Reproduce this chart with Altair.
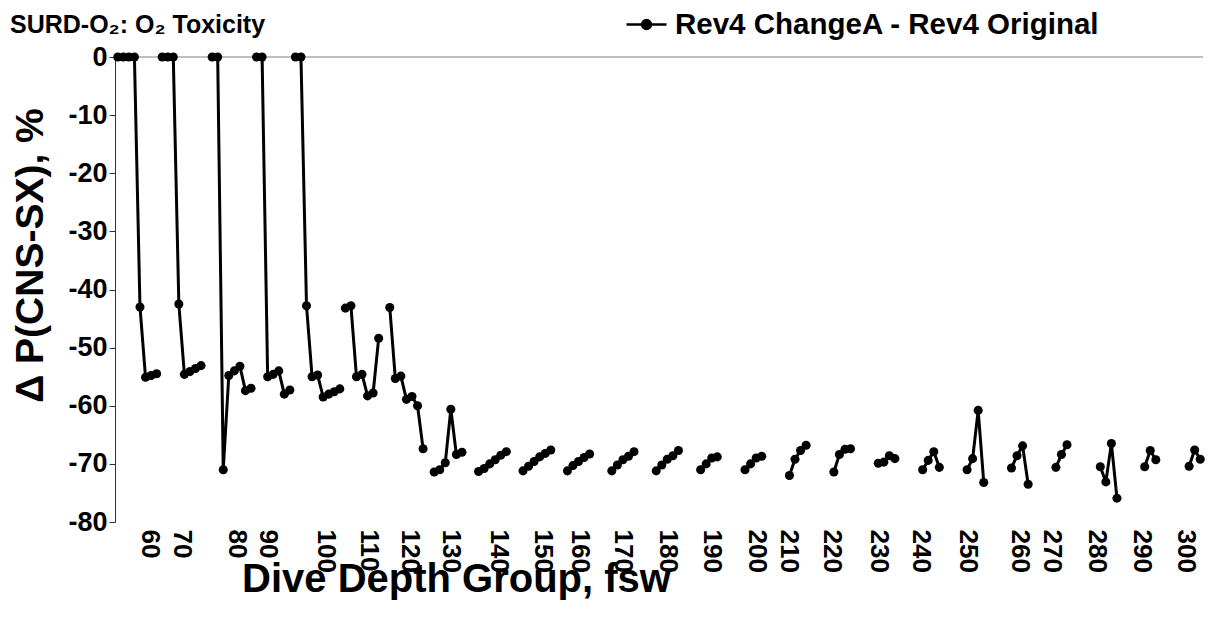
import altair as alt
import pandas as pd

FONT = "Liberation Sans"

# depth groups (x tick labels), first category index of each group, and values
groups = ["60", "70", "80", "90", "100", "110", "120", "130", "140", "150",
          "160", "170", "180", "190", "200", "210", "220", "230", "240", "250",
          "260", "270", "280", "290", "300"]
starts = [0, 8, 17, 25, 32, 41, 49, 57, 65, 73, 81, 89, 97, 105, 113, 121,
          129, 137, 145, 153, 161, 169, 177, 185, 193]
values = [
    [0, 0, 0, 0, -43.0, -55.1, -54.8, -54.5],
    [0, 0, 0, -42.5, -54.6, -54.1, -53.6, -53.1],
    [0, 0, -71.0, -54.8, -54.0, -53.2, -57.4, -57.0],
    [0, 0, -55.0, -54.6, -54.0, -58.0, -57.3],
    [0, 0, -42.8, -55.0, -54.7, -58.5, -58.0, -57.6, -57.1],
    [-43.2, -42.8, -55.0, -54.6, -58.3, -57.8, -48.4],
    [-43.1, -55.3, -54.9, -58.9, -58.4, -60.0, -67.4],
    [-71.4, -71.0, -69.8, -60.6, -68.4, -68.0],
    [-71.3, -70.8, -70.0, -69.3, -68.5, -67.9],
    [-71.2, -70.4, -69.6, -68.8, -68.2, -67.6],
    [-71.2, -70.3, -69.6, -68.9, -68.3],
    [-71.2, -70.2, -69.3, -68.7, -67.9],
    [-71.2, -70.2, -69.2, -68.6, -67.7],
    [-71.0, -70.0, -69.0, -68.8],
    [-71.0, -70.0, -69.0, -68.7],
    [-72.0, -69.2, -67.7, -66.8],
    [-71.4, -68.4, -67.5, -67.4],
    [-69.9, -69.7, -68.6, -69.1],
    [-71.0, -69.4, -67.9, -70.6],
    [-71.0, -69.1, -60.8, -73.2],
    [-70.7, -68.6, -66.9, -73.5],
    [-70.6, -68.4, -66.7],
    [-70.5, -73.1, -66.5, -75.9],
    [-70.5, -67.7, -69.3],
    [-70.4, -67.6, -69.2],
]
# category index at which each depth label sits
label_pos = [5.8, 11.5, 21.3, 27, 37.4, 45.2, 52.5, 59.9, 68.5, 76.5, 83.1, 91,
             99.1, 107, 115, 120.9, 128.6, 137.1, 144.6, 153.1, 162.4, 168.2,
             176.4, 184.5, 192.3]
n_categories = 196
series_name = "Rev4 ChangeA - Rev4 Original"

rows = []
for g, s, vals in zip(groups, starts, values):
    for k, v in enumerate(vals):
        rows.append({"idx": s + k, "delta": v, "group": g, "series": series_name})
df = pd.DataFrame(rows)

xscale = alt.Scale(domain=[-0.5, n_categories - 0.5], nice=False, zero=False)
yscale = alt.Scale(domain=[-80, 0], nice=False, zero=False)

label_expr = ("[" + ",".join(f"'{g}'" for g in groups) + "][indexof(["
              + ",".join(str(p) for p in label_pos) + "], datum.value)]")

x_enc = alt.X(
    "idx:Q", scale=xscale,
    axis=alt.Axis(
        values=label_pos, labelExpr=label_expr, labelAngle=90,
        labelAlign="left", labelBaseline="middle", labelFontSize=26,
        labelFontWeight="bold", labelFont=FONT, labelColor="black",
        labelPadding=7, labelOverlap=False, labelFlush=False,
        domain=False, ticks=False, grid=False,
        title="Dive Depth Group, fsw", titleFont=FONT, titleFontSize=40,
        titleFontWeight="bold", titleColor="black", titleX=341, titleY=37,
    ),
)
y_enc = alt.Y(
    "delta:Q", scale=yscale,
    axis=alt.Axis(
        values=list(range(-80, 1, 10)), labelExpr="datum.value + ''",
        labelFontSize=27, labelFontWeight="bold", labelFont=FONT,
        labelColor="black", labelPadding=2, tickSize=6, tickColor="#333333",
        domainColor="#333333", grid=False,
        title="Δ P(CNS-SX), %", titleFont=FONT, titleFontSize=39,
        titleFontWeight="bold", titleColor="black", titleX=-65, titleY=198,
    ),
)
color_enc = alt.Color(
    "series:N", scale=alt.Scale(range=["black"]),
    legend=alt.Legend(
        title=None, orient="none", legendX=510, legendY=-54,
        symbolType="M-1,0H1M-0.22,0A0.22,0.22 0 1,1 0.22,0A0.22,0.22 0 1,1 -0.22,0",
        symbolSize=1600, symbolStrokeWidth=2.5, symbolFillColor="black",
        symbolStrokeColor="black", labelFontSize=29.5, labelFontWeight="bold",
        labelFont=FONT, labelColor="black", labelOffset=7, labelLimit=0,
    ),
)

zero = alt.Chart(pd.DataFrame({"zero": [0]})).mark_rule(
    color="#808080", strokeWidth=1
).encode(y=alt.Y("zero:Q", scale=yscale))

base = alt.Chart(df).encode(x=x_enc, y=y_enc, color=color_enc)
line = base.mark_line(strokeWidth=3).encode(detail="group:N")
pts = base.mark_point(filled=True, size=82, opacity=1)

chart = alt.layer(zero, line, pts).properties(
    width=1088, height=465,
    autosize=alt.AutoSizeParams(type="none"),
    padding={"left": 107, "top": 49, "right": 2, "bottom": 88},
    title=alt.TitleParams(
        "SURD-O₂: O₂ Toxicity", anchor="start", frame="group", dx=-105,
        dy=47, offset=12, fontSize=25, font=FONT, fontWeight="bold",
        color="black",
    ),
).configure_view(stroke=None)

chart.save("out.html", embed_options={"renderer": "svg", "actions": False})
